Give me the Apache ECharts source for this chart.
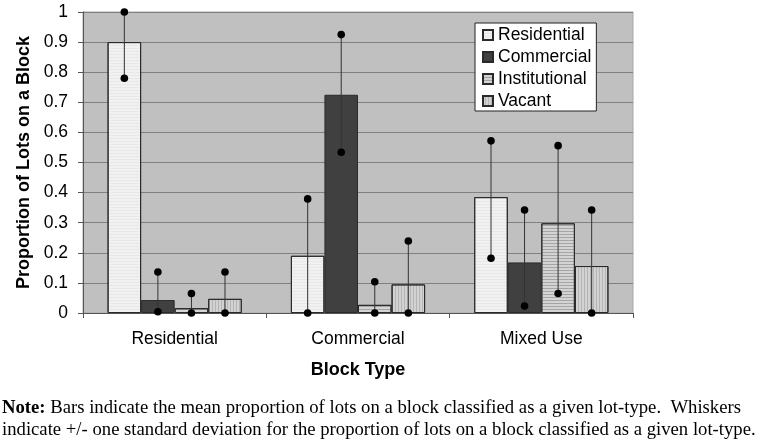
<!DOCTYPE html>
<html>
<head>
<meta charset="utf-8">
<script src="https://cdn.jsdelivr.net/npm/echarts@6/dist/echarts.min.js"></script>
<style>
html,body{margin:0;padding:0;background:#fff;}
#chart{width:761px;height:448px;}
</style>
</head>
<body>
<div id="chart"></div>
<script>
// ---- data ----
const categories = ['Residential', 'Commercial', 'Mixed Use'];
const seriesNames = ['Residential', 'Commercial', 'Institutional', 'Vacant'];
const residentialMean = [0.90, 0.19, 0.385];
const commercialMean = [0.043, 0.725, 0.168];
const institutionalMean = [0.016, 0.027, 0.298];
const vacantMean = [0.047, 0.095, 0.156];
// whisker ends (lower, upper)
const residentialLow = [0.78, 0.0, 0.182];
const residentialHigh = [1.0, 0.379, 0.572];
const commercialLow = [0.004, 0.534, 0.023];
const commercialHigh = [0.136, 0.925, 0.342];
const institutionalLow = [0.0, 0.0, 0.065];
const institutionalHigh = [0.065, 0.104, 0.556];
const vacantLow = [0.0, 0.0, 0.0];
const vacantHigh = [0.136, 0.239, 0.342];
const yTicks = ['0', '0.1', '0.2', '0.3', '0.4', '0.5', '0.6', '0.7', '0.8', '0.9', '1'];

const means = [residentialMean, commercialMean, institutionalMean, vacantMean];
const lows = [residentialLow, commercialLow, institutionalLow, vacantLow];
const highs = [residentialHigh, commercialHigh, institutionalHigh, vacantHigh];

const fills = ['#f1f1f1', '#404040', '#d4d4d4', '#d2d2d2'];
const decals = [
  {symbol: 'rect', dashArrayX: [1, 0], dashArrayY: [1, 2], color: 'rgba(0,0,0,0.04)', symbolSize: 1},
  'none',
  {symbol: 'rect', dashArrayX: [1, 0], dashArrayY: [1, 2], color: 'rgba(0,0,0,0.22)', symbolSize: 1},
  {symbol: 'rect', dashArrayX: [1, 0], dashArrayY: [1, 2], rotation: Math.PI / 2, color: 'rgba(0,0,0,0.14)', symbolSize: 1}
];
const catGap = 0.268;

const chart = echarts.init(document.getElementById('chart'), null, {renderer: 'canvas'});

const series = [];
seriesNames.forEach((name, i) => {
  const st = {color: fills[i], borderColor: '#2a2a2a', borderWidth: 1};
  if (decals[i] !== 'none') st.decal = decals[i];
  series.push({
    name: name,
    type: 'bar',
    data: means[i],
    barGap: '0%',
    barCategoryGap: (catGap * 100) + '%',
    itemStyle: st,
    emphasis: {disabled: true},
    z: 2
  });
});
seriesNames.forEach((name, i) => {
  series.push({
    type: 'custom',
    name: name + ' sd',
    data: categories.map((c, k) => [k, lows[i][k], highs[i][k]]),
    z: 5,
    silent: true,
    renderItem: function (params, api) {
      const band = api.size([1, 0])[0];
      const bw = band * (1 - catGap) / 4;
      const off = bw * (i - 1.5);
      const pLo = api.coord([api.value(0), api.value(1)]);
      const pHi = api.coord([api.value(0), api.value(2)]);
      const x = pLo[0] + off;
      return {
        type: 'group',
        children: [
          {type: 'line', shape: {x1: x, y1: pLo[1], x2: x, y2: pHi[1]}, style: {stroke: '#333', lineWidth: 1}},
          {type: 'circle', shape: {cx: x, cy: pLo[1], r: 3.8}, style: {fill: '#000'}},
          {type: 'circle', shape: {cx: x, cy: pHi[1], r: 3.8}, style: {fill: '#000'}}
        ]
      };
    }
  });
});

chart.setOption({
  animation: false,
  backgroundColor: '#fff',
  textStyle: {fontFamily: 'Liberation Sans, Arial, sans-serif'},
  grid: {left: 83, top: 12, width: 550, height: 301, show: true, backgroundColor: '#c0c0c0', borderColor: '#a8a8a8', borderWidth: 1},
  legend: {
    data: seriesNames,
    orient: 'vertical',
    left: 475,
    top: 23,
    backgroundColor: '#fff',
    borderColor: '#222',
    borderWidth: 1,
    borderRadius: 0,
    padding: [3, 5, 1, 7],
    itemWidth: 10,
    itemHeight: 10,
    itemGap: 4,
    icon: 'rect',
    selectedMode: false,
    textStyle: {fontSize: 17.5, color: '#000', fontFamily: 'Liberation Sans, Arial, sans-serif'}
  },
  xAxis: {
    type: 'category',
    data: categories,
    name: 'Block Type',
    nameLocation: 'middle',
    nameGap: 48,
    nameTextStyle: {fontSize: 18, fontWeight: 'bold', color: '#000'},
    axisLine: {lineStyle: {color: '#555', width: 1}},
    axisTick: {show: true, length: 5, lineStyle: {color: '#555'}},
    axisLabel: {fontSize: 17.5, color: '#000', margin: 17}
  },
  yAxis: {
    type: 'value',
    min: 0,
    max: 1,
    interval: 0.1,
    name: 'Proportion of Lots on a Block',
    nameLocation: 'middle',
    nameGap: 42,
    nameTextStyle: {fontSize: 18, fontWeight: 'bold', color: '#000'},
    axisLine: {show: true, lineStyle: {color: '#555', width: 1}},
    axisTick: {show: true, length: 5, lineStyle: {color: '#555'}},
    axisLabel: {fontSize: 17.5, color: '#000', margin: 15, formatter: function (v) { return yTicks[Math.round(v * 10)]; }},
    splitLine: {lineStyle: {color: '#808080', width: 1}}
  },
  series: series,
  graphic: [
    {type: 'text', left: 2, top: 399, style: {
      text: '{b|Note:} Bars indicate the mean proportion of lots on a block classified as a given lot-type.  Whiskers',
      font: '18.7px "Liberation Serif", "Times New Roman", serif', fill: '#000',
      rich: {b: {fontWeight: 'bold', fontSize: 18.7, fontFamily: 'Liberation Serif'}}
    }},
    {type: 'text', left: 2, top: 421, style: {
      text: 'indicate +/- one standard deviation for the proportion of lots on a block classified as a given lot-type.',
      font: '18.7px "Liberation Serif", "Times New Roman", serif', fill: '#000'
    }}
  ]
});
</script>
</body>
</html>
